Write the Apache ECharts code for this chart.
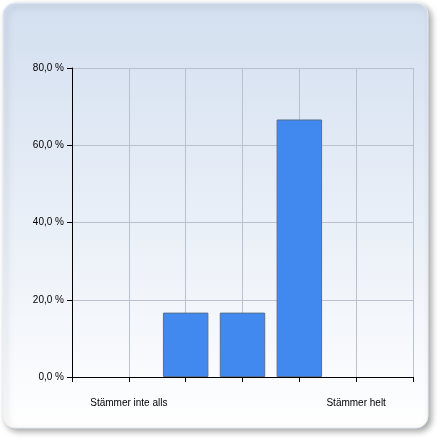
<!DOCTYPE html>
<html>
<head>
<meta charset="utf-8">
<script src="https://cdn.jsdelivr.net/npm/echarts@6/dist/echarts.min.js"></script>
<style>
html,body{margin:0;padding:0;background:#ffffff;}
#chart{width:441px;height:441px;}
</style>
</head>
<body>
<div id="chart"></div>
<script>
var categories = ['', 'Stämmer inte alls', '', '', '', 'Stämmer helt', ''];
var values = [null, 0, 16.67, 16.67, 66.67, 0, null];
var yTicks = [0, 20, 40, 60, 80];

var chart = echarts.init(document.getElementById('chart'), null, {renderer: 'canvas'});
var fontFamily = '"Liberation Sans", Arial, sans-serif';
chart.setOption({
  animation: false,
  graphic: [{
    type: 'rect',
    z: -10,
    silent: true,
    shape: {x: 3, y: 3, width: 425, height: 425, r: 12},
    style: {
      fill: new echarts.graphic.LinearGradient(0, 0, 0, 1, [
        {offset: 0, color: '#d3dff0'},
        {offset: 1, color: '#ffffff'}
      ]),
      stroke: '#e4ebf5',
      lineWidth: 1,
      shadowBlur: 6,
      shadowOffsetX: 3,
      shadowOffsetY: 3,
      shadowColor: 'rgba(0,0,0,0.35)'
    }
  }],
  grid: {left: 72, right: 28, top: 68, bottom: 64, containLabel: false},
  xAxis: {
    type: 'category',
    data: categories,
    boundaryGap: false,
    axisLine: {lineStyle: {color: '#000000', width: 1}},
    axisTick: {show: true, length: 5, interval: 0, lineStyle: {color: '#000000'}},
    axisLabel: {interval: 0, margin: 21, color: '#000000', fontSize: 10, fontFamily: fontFamily},
    splitLine: {show: true, interval: 0, lineStyle: {color: '#b9c1cd', width: 1}}
  },
  yAxis: {
    type: 'value',
    min: yTicks[0],
    max: yTicks[yTicks.length - 1],
    interval: 20,
    axisLine: {show: true, lineStyle: {color: '#000000', width: 1}},
    axisTick: {show: true, length: 5, lineStyle: {color: '#000000'}},
    axisLabel: {
      margin: 8,
      color: '#000000',
      fontSize: 10,
      fontFamily: fontFamily,
      formatter: function (v) { return v.toFixed(1).replace('.', ',') + ' %'; }
    },
    splitLine: {show: true, lineStyle: {color: '#b9c1cd', width: 1}}
  },
  series: [{
    type: 'bar',
    data: values.map(function (v) {
      return (v === 0) ? {value: v, itemStyle: {borderWidth: 0, opacity: 0}} : v;
    }),
    barWidth: '80%',
    itemStyle: {color: '#4189ee', borderColor: '#56708f', borderWidth: 1}
  }]
});
</script>
</body>
</html>
